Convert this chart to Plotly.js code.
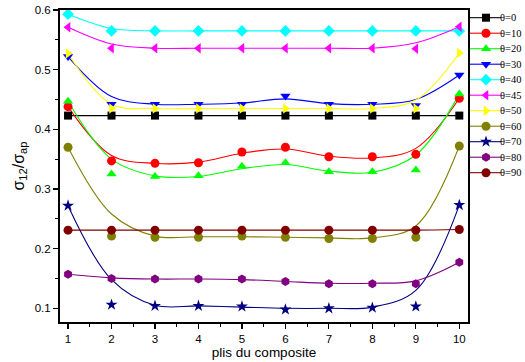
<!DOCTYPE html>
<html>
<head>
<meta charset="utf-8">
<script src="https://cdn.plot.ly/plotly-3.0.1.min.js"></script>
<style>html,body{margin:0;padding:0;background:#fff;}#chart{width:525px;height:362px;}</style>
</head>
<body>
<div id="chart"></div>
<script>
// ---- data ----
const plies = [1, 2, 3, 4, 5, 6, 7, 8, 9, 10];
const names = ['θ=0', 'θ=10', 'θ=20', 'θ=30', 'θ=40', 'θ=45', 'θ=50', 'θ=60', 'θ=70', 'θ=80', 'θ=90'];

// measured points (markers)
const m0  = [0.423, 0.423, 0.423, 0.423, 0.423, 0.423, 0.423, 0.423, 0.423, 0.423];
const m10 = [0.438, 0.347, 0.343, 0.344, 0.362, 0.370, 0.354, 0.354, 0.358, 0.452];
const m20 = [0.447, 0.325, 0.321, 0.322, 0.338, 0.344, 0.329, 0.329, 0.332, 0.459];
const m30 = [0.522, 0.442, 0.442, 0.442, 0.442, 0.456, 0.442, 0.442, 0.440, 0.491];
const m40 = [0.593, 0.565, 0.565, 0.565, 0.565, 0.565, 0.565, 0.565, 0.565, 0.565];
const m45 = [0.571, 0.536, 0.536, 0.536, 0.536, 0.536, 0.536, 0.536, 0.535, 0.572];
const m50 = [0.527, 0.435, 0.435, 0.435, 0.435, 0.435, 0.435, 0.435, 0.435, 0.528];
const m60 = [0.370, 0.221, 0.219, 0.219, 0.221, 0.219, 0.217, 0.217, 0.219, 0.372];
const m70 = [0.272, 0.106, 0.104, 0.104, 0.103, 0.098, 0.100, 0.101, 0.103, 0.273];
const m80 = [0.157, 0.150, 0.149, 0.149, 0.149, 0.145, 0.141, 0.141, 0.141, 0.177];
const m90 = [0.231, 0.231, 0.231, 0.231, 0.231, 0.231, 0.231, 0.231, 0.231, 0.232];

// fitted smooth curves (value of the curve at each ply)
const c0  = [0.423, 0.423, 0.423, 0.423, 0.423, 0.423, 0.423, 0.423, 0.423, 0.423];
const c10 = [0.438, 0.356, 0.343, 0.345, 0.360, 0.367, 0.355, 0.352, 0.368, 0.452];
const c20 = [0.447, 0.350, 0.322, 0.321, 0.334, 0.341, 0.330, 0.328, 0.357, 0.459];
const c30 = [0.522, 0.455, 0.442, 0.442, 0.444, 0.451, 0.443, 0.442, 0.450, 0.491];
const c40 = [0.593, 0.569, 0.565, 0.565, 0.565, 0.565, 0.565, 0.565, 0.565, 0.565];
const c45 = [0.571, 0.543, 0.536, 0.536, 0.536, 0.536, 0.536, 0.536, 0.545, 0.572];
const c50 = [0.527, 0.442, 0.435, 0.435, 0.435, 0.435, 0.435, 0.435, 0.449, 0.528];
const c60 = [0.370, 0.258, 0.221, 0.220, 0.220, 0.219, 0.218, 0.218, 0.238, 0.372];
const c70 = [0.272, 0.148, 0.105, 0.104, 0.102, 0.100, 0.100, 0.102, 0.130, 0.273];
const c80 = [0.157, 0.151, 0.149, 0.149, 0.148, 0.145, 0.142, 0.142, 0.146, 0.177];
const c90 = [0.231, 0.231, 0.231, 0.231, 0.231, 0.231, 0.231, 0.231, 0.231, 0.232];

const xTicks = [1, 2, 3, 4, 5, 6, 7, 8, 9, 10];
const yTicks = [0.1, 0.2, 0.3, 0.4, 0.5, 0.6];

// ---- styles ----
const markersAll = [m0, m10, m20, m30, m40, m45, m50, m60, m70, m80, m90];
const curvesAll  = [c0, c10, c20, c30, c40, c45, c50, c60, c70, c80, c90];
const colors  = ['#000000', '#FF0000', '#00FF00', '#0000FF', '#00FFFF', '#FF00FF', '#FFFF00', '#808000', '#000080', '#800080', '#800000'];
const symbols = ['square', 'circle', 'triangle-up', 'triangle-down', 'diamond', 'triangle-left', 'triangle-right', 'circle', 'star', 'hexagon', 'circle'];
const sizes   = [8, 9, 9, 9, 9, 9, 9, 9, 9, 9, 9];

const traces = [];
for (let i = 0; i < names.length; i++) {
  traces.push({
    x: plies, y: curvesAll[i], type: 'scatter', mode: 'lines',
    line: {color: colors[i], width: 1.1, shape: 'spline', smoothing: 1},
    showlegend: false, hoverinfo: 'skip', xaxis: 'x', yaxis: 'y'
  });
}
for (let i = 0; i < names.length; i++) {
  traces.push({
    x: plies, y: markersAll[i], type: 'scatter', mode: 'markers', name: names[i],
    marker: {color: colors[i], symbol: symbols[i], size: sizes[i], line: {width: 0}},
    showlegend: false, xaxis: 'x', yaxis: 'y', cliponaxis: false
  });
}
// hand-made legend on its own axes (tighter row spacing than the built-in legend)
const legendX = [2, 18, 33];
const annotations = [];
for (let i = 0; i < names.length; i++) {
  traces.push({
    x: legendX, y: [i, i, i], type: 'scatter', mode: 'lines+markers',
    line: {color: colors[i], width: 1.1},
    marker: {color: colors[i], symbol: symbols[i], size: sizes[i], opacity: [0, 1, 0], line: {width: 0}},
    showlegend: false, hoverinfo: 'skip', xaxis: 'x2', yaxis: 'y2', cliponaxis: false
  });
  annotations.push({
    text: names[i], x: 33, y: i, xref: 'x2', yref: 'y2', xanchor: 'left', yanchor: 'middle',
    xshift: -2, borderpad: 0,
    showarrow: false, font: {family: 'Liberation Serif, Times New Roman, serif', size: 10.5, color: '#000'}
  });
}

const W = 525, H = 362, ML = 60, MR = 0, MT = 10, MB = 40;
const plotRight = 468;
const mainFrac = (plotRight - ML) / (W - ML - MR);

const layout = {
  width: W, height: H,
  margin: {l: ML, r: MR, t: MT, b: MB, pad: 0},
  paper_bgcolor: '#ffffff', plot_bgcolor: '#ffffff',
  showlegend: false,
  font: {family: 'Liberation Sans, Arial, sans-serif', size: 11, color: '#000'},
  xaxis: {
    domain: [0, mainFrac], range: [0.815, 10.2],
    tickmode: 'array', tickvals: xTicks, ticktext: xTicks.map(String),
    ticks: 'outside', ticklen: 5, tickwidth: 1.2, tickcolor: '#000',
    minor: {ticks: 'outside', ticklen: 3, tickwidth: 1, tickcolor: '#000', dtick: 0.5, tick0: 0.5},
    showline: true, linewidth: 2, linecolor: '#000', mirror: true,
    showgrid: false, zeroline: false,
    tickfont: {family: 'Liberation Sans, Arial, sans-serif', size: 11.5},
    title: {text: 'plis du composite', font: {family: 'Liberation Sans, Arial, sans-serif', size: 13.5}, standoff: 0}
  },
  yaxis: {
    range: [0.077, 0.6],
    tickmode: 'array', tickvals: yTicks, ticktext: yTicks.map(v => v.toFixed(1)),
    ticks: 'outside', ticklen: 5, tickwidth: 1.2, tickcolor: '#000',
    minor: {ticks: 'outside', ticklen: 3, tickwidth: 1, tickcolor: '#000', dtick: 0.05, tick0: 0.05},
    showline: true, linewidth: 2, linecolor: '#000', mirror: true,
    showgrid: false, zeroline: false,
    tickfont: {family: 'Liberation Sans, Arial, sans-serif', size: 11.5},
    title: {text: 'σ<sub>12</sub>/σ<sub>ap</sub>', font: {family: 'Liberation Sans, Arial, sans-serif', size: 16}, standoff: 6}
  },
  xaxis2: {domain: [mainFrac, 1], range: [0, W - plotRight], visible: false, anchor: 'y2', fixedrange: true},
  yaxis2: {domain: [0, 1], range: [(H - MB - 17.7) / 15.5, -(17.7 - MT) / 15.5], visible: false, anchor: 'x2', fixedrange: true},
  annotations: annotations
};

Plotly.newPlot('chart', traces, layout, {displayModeBar: false, staticPlot: true});
</script>
</body>
</html>
